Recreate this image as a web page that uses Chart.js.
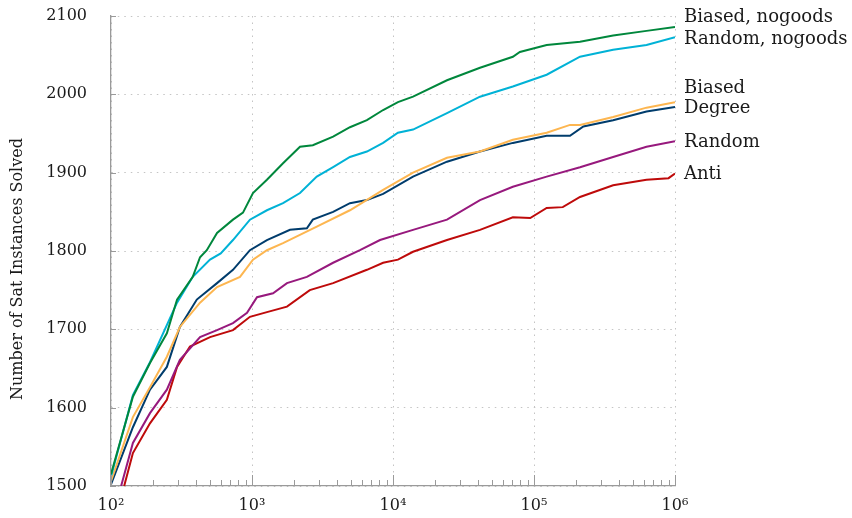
<!DOCTYPE html>
<html>
<head>
<meta charset="utf-8">
<script src="https://cdn.jsdelivr.net/npm/chart.js@4/dist/chart.umd.min.js"></script>
<style>
  body { margin: 0; background: #fff; }
</style>
</head>
<body>
<canvas id="chart" width="852" height="518"></canvas>
<script>
// series (x = budget, y = instances solved)
const seriesNames = ['Biased, nogoods', 'Random, nogoods', 'Biased', 'Degree', 'Random', 'Anti'];

const biasedNogoodsX = [100, 143, 189, 249, 294, 380, 428, 478, 565, 733, 863, 1016, 1276, 1660, 2190, 2700, 3760, 4950, 6530, 8510, 10840, 13870, 24150, 41400, 70800, 79400, 123000, 212000, 364000, 628000, 1000000];
const biasedNogoodsY = [1515, 1614, 1657, 1695, 1738, 1767, 1792, 1801, 1823, 1840, 1849, 1874, 1891, 1912, 1933, 1935, 1946, 1958, 1967, 1980, 1990, 1997, 2018, 2034, 2048, 2054, 2063, 2067, 2075, 2081, 2086];

const randomNogoodsX = [100, 143, 189, 294, 380, 504, 600, 733, 967, 1276, 1660, 2190, 2880, 3760, 4950, 6530, 8510, 10840, 13870, 24150, 41400, 70800, 123000, 212000, 364000, 628000, 1000000];
const randomNogoodsY = [1512, 1616, 1658, 1734, 1767, 1789, 1797, 1814, 1840, 1852, 1861, 1874, 1895, 1907, 1920, 1927, 1938, 1951, 1955, 1976, 1997, 2010, 2025, 2048, 2057, 2063, 2073];

const biasedX = [100, 143, 189, 249, 308, 428, 565, 822, 1016, 1276, 1660, 2880, 4950, 8510, 13870, 24150, 41400, 70800, 123000, 180000, 212000, 364000, 628000, 1000000];
const biasedY = [1506, 1588, 1626, 1665, 1703, 1734, 1754, 1767, 1789, 1801, 1810, 1831, 1852, 1878, 1900, 1919, 1927, 1942, 1951, 1961, 1961, 1971, 1983, 1990];

const degreeX = [100, 143, 189, 249, 308, 406, 565, 733, 967, 1276, 1860, 2450, 2700, 3760, 4950, 6530, 8510, 13870, 24150, 41400, 70800, 123000, 180000, 224000, 364000, 628000, 1000000];
const degreeY = [1502, 1575, 1623, 1652, 1703, 1738, 1759, 1776, 1801, 1814, 1827, 1829, 1840, 1850, 1861, 1865, 1873, 1895, 1914, 1927, 1938, 1947, 1947, 1959, 1967, 1978, 1984];

const randomX = [118, 143, 189, 249, 308, 428, 565, 733, 922, 1085, 1410, 1770, 2450, 3760, 5830, 8090, 13870, 24150, 41400, 70800, 123000, 212000, 364000, 628000, 1000000];
const randomY = [1500, 1555, 1593, 1623, 1661, 1690, 1699, 1708, 1721, 1741, 1746, 1759, 1767, 1785, 1801, 1814, 1827, 1840, 1865, 1882, 1895, 1907, 1920, 1933, 1940];

const antiX = [124, 143, 189, 249, 294, 363, 504, 733, 967, 1276, 1770, 2570, 3760, 6530, 8510, 10840, 13870, 24150, 41400, 70800, 94000, 123000, 160000, 212000, 364000, 628000, 900000, 1000000];
const antiY = [1500, 1542, 1580, 1610, 1652, 1678, 1690, 1699, 1716, 1722, 1729, 1750, 1759, 1776, 1785, 1789, 1799, 1814, 1827, 1843, 1842, 1855, 1856, 1869, 1884, 1891, 1893, 1899];

const xTickExponents = [2, 3, 4, 5, 6];
const yTicks = [1500, 1600, 1700, 1800, 1900, 2000, 2100];
const yTitle = 'Number of Sat Instances Solved';

const colors = ['#00873c', '#00b2d6', '#fdb650', '#003c6c', '#97197d', '#be0a0a'];
// vertical shift (px) of each end label so they don't collide
const labelNudge = [-10, 2, -14, 1, 1, 1];

const FONT = '"DejaVu Serif", "Liberation Serif", serif';
const SUP = { '2': '\u00b2', '3': '\u00b3', '4': '\u2074', '5': '\u2075', '6': '\u2076' };

function toPoints(xs, ys) {
    return xs.map((x, i) => ({ x, y: ys[i] }));
}

const allX = [biasedNogoodsX, randomNogoodsX, biasedX, degreeX, randomX, antiX];
const allY = [biasedNogoodsY, randomNogoodsY, biasedY, degreeY, randomY, antiY];

const datasets = seriesNames.map((name, i) => ({
    label: name,
    data: toPoints(allX[i], allY[i]),
    borderColor: colors[i],
    backgroundColor: colors[i],
    borderWidth: 2,
    pointRadius: 0,
    tension: 0,
    fill: false
}));

// inward axis ticks, y title, and series names at the line ends
const decorations = {
    id: 'decorations',
    afterDraw(chart) {
        const ctx = chart.ctx;
        const xs = chart.scales.x;
        const ys = chart.scales.y;
        const area = chart.chartArea;
        ctx.save();
        ctx.strokeStyle = '#9a9a9a';
        ctx.lineWidth = 1;
        ctx.beginPath();
        xTickExponents.forEach((e, k) => {
            const px = Math.round(xs.getPixelForValue(10 ** e)) + 0.5;
            ctx.moveTo(px, area.bottom);
            ctx.lineTo(px, area.bottom - 11);
            if (k < xTickExponents.length - 1) {
                for (let m = 2; m <= 9; m++) {
                    const mx = Math.round(xs.getPixelForValue(m * 10 ** e)) + 0.5;
                    ctx.moveTo(mx, area.bottom);
                    ctx.lineTo(mx, area.bottom - 6);
                }
            }
        });
        yTicks.forEach(v => {
            const py = Math.round(ys.getPixelForValue(v)) + 0.5;
            ctx.moveTo(area.left, py);
            ctx.lineTo(area.left + 5, py);
        });
        ctx.stroke();

        ctx.fillStyle = '#1a1a1a';
        ctx.textBaseline = 'middle';

        // y axis title
        ctx.save();
        ctx.font = '16px ' + FONT;
        ctx.textAlign = 'center';
        ctx.translate(18, 269);
        ctx.rotate(-Math.PI / 2);
        ctx.fillText(yTitle, 0, 0);
        ctx.restore();

        ctx.font = '18px ' + FONT;
        ctx.textAlign = 'left';
        chart.data.datasets.forEach((ds, i) => {
            const meta = chart.getDatasetMeta(i);
            const last = meta.data[meta.data.length - 1];
            ctx.fillText(ds.label, area.right + 9, last.y + labelNudge[i]);
        });
        ctx.restore();
    }
};

new Chart(document.getElementById('chart'), {
    type: 'line',
    data: { datasets },
    options: {
        responsive: false,
        animation: false,
        layout: { padding: { top: 16, right: 177, left: 0, bottom: 0 } },
        plugins: {
            legend: { display: false },
            tooltip: { enabled: false }
        },
        scales: {
            x: {
                type: 'logarithmic',
                min: 100,
                max: 1000000,
                afterBuildTicks: scale => {
                    scale.ticks = xTickExponents.map(e => ({ value: 10 ** e }));
                },
                afterFit: scale => { scale.height = 32; },
                ticks: {
                    autoSkip: false,
                    maxRotation: 0,
                    padding: 10,
                    color: '#1a1a1a',
                    font: { family: FONT, size: 16 },
                    callback: value => {
                        const e = String(Math.round(Math.log10(value)));
                        return '10' + SUP[e];
                    }
                },
                grid: { color: '#c4c4c4', lineWidth: 1, drawTicks: false },
                border: { color: '#9a9a9a', width: 1.3, dash: [1.5, 5] }
            },
            y: {
                min: 1500,
                max: 2100,
                afterBuildTicks: scale => {
                    scale.ticks = yTicks.map(v => ({ value: v }));
                },
                afterFit: scale => { scale.width = 111; },
                ticks: {
                    padding: 4,
                    color: '#1a1a1a',
                    font: { family: FONT, size: 16 },
                    callback: value => String(value)
                },
                grid: {
                    color: '#c4c4c4',
                    lineWidth: 1,
                    drawTicks: true,
                    tickLength: 20,
                    tickColor: 'rgba(0,0,0,0)'
                },
                border: { color: '#9a9a9a', width: 1.3, dash: [1.5, 5] }
            }
        }
    },
    plugins: [decorations]
});
</script>
</body>
</html>
